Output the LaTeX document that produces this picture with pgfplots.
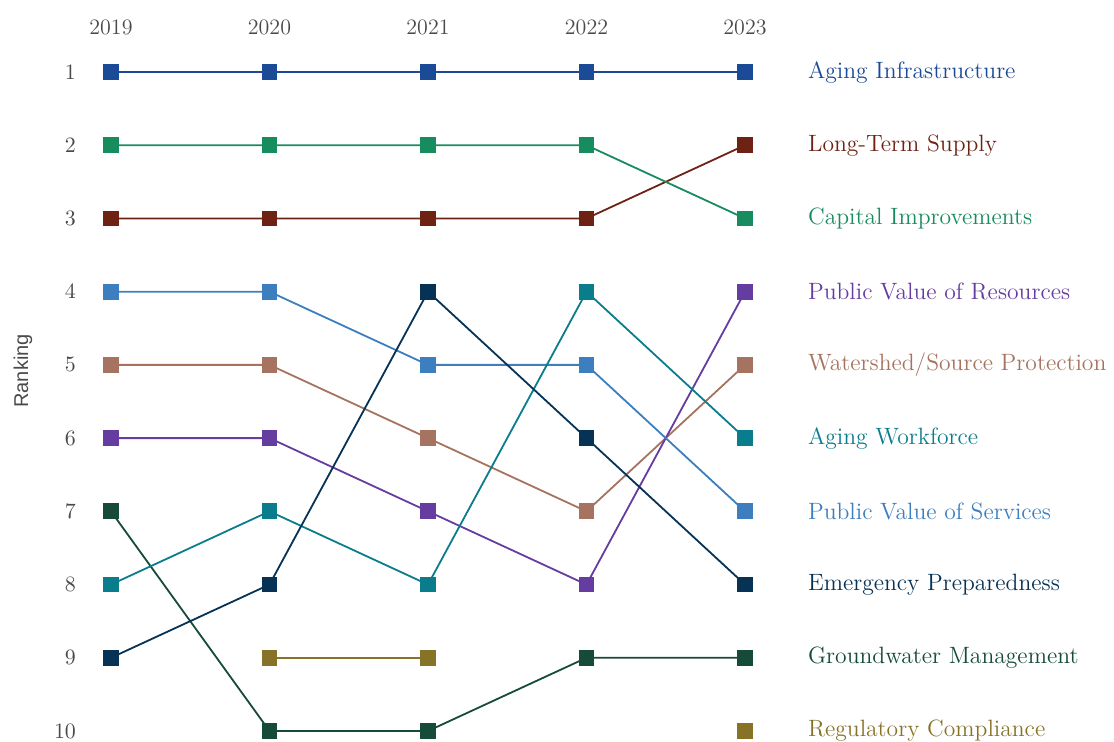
\documentclass[border=0pt]{standalone}
\usepackage{pgfplots}
\pgfplotsset{compat=1.18}
\usepackage{fontspec}
\newfontfamily\sansfam{Liberation Sans}
\definecolor{cAI}{HTML}{1B4A96}
\definecolor{cCI}{HTML}{178C5E}
\definecolor{cLT}{HTML}{6E2214}
\definecolor{cPS}{HTML}{3D7EBF}
\definecolor{cWS}{HTML}{A5735F}
\definecolor{cPR}{HTML}{653CA0}
\definecolor{cGM}{HTML}{154B38}
\definecolor{cAW}{HTML}{0A7D8C}
\definecolor{cEP}{HTML}{063255}
\definecolor{cRC}{HTML}{877328}
\definecolor{tickgray}{HTML}{4A4A4A}
\begin{document}
\begin{tikzpicture}
\begin{axis}[
  at={(0,0)}, anchor=south west,
  scale only axis, width=317pt, height=329.5pt,
  xmin=2019, xmax=2023, ymin=1, ymax=10,
  y dir=reverse, clip=false,
  axis line style={draw=none}, tick style={draw=none},
  xtick={2019,2020,2021,2022,2023},
  xticklabels={2019,2020,2021,2022,2023},
  xticklabel pos=top,
  xticklabel style={font=\fontsize{11}{13}\selectfont, text=tickgray, yshift=15pt},
  ytick={1,2,3,4,5,6,7,8,9,10},
  yticklabel style={font=\fontsize{11}{13}\selectfont, text=tickgray, xshift=-14pt},
  unbounded coords=jump,
  every axis plot/.append style={line width=0.9pt, mark=square*, mark size=3.5pt},
]
\addplot[color=cRC, mark options={fill=cRC}] coordinates {(2020,9)(2021,9)(2022,nan)(2023,10)};
\addplot[color=cGM, mark options={fill=cGM}] coordinates {(2019,7)(2020,10)(2021,10)(2022,9)(2023,9)};
\addplot[color=cWS, mark options={fill=cWS}] coordinates {(2019,5)(2020,5)(2021,6)(2022,7)(2023,5)};
\addplot[color=cPR, mark options={fill=cPR}] coordinates {(2019,6)(2020,6)(2021,7)(2022,8)(2023,4)};
\addplot[color=cPS, mark options={fill=cPS}] coordinates {(2019,4)(2020,4)(2021,5)(2022,5)(2023,7)};
\addplot[color=cAW, mark options={fill=cAW}] coordinates {(2019,8)(2020,7)(2021,8)(2022,4)(2023,6)};
\addplot[color=cEP, mark options={fill=cEP}] coordinates {(2019,9)(2020,8)(2021,4)(2022,6)(2023,8)};
\addplot[color=cLT, mark options={fill=cLT}] coordinates {(2019,3)(2020,3)(2021,3)(2022,3)(2023,2)};
\addplot[color=cCI, mark options={fill=cCI}] coordinates {(2019,2)(2020,2)(2021,2)(2022,2)(2023,3)};
\addplot[color=cAI, mark options={fill=cAI}] coordinates {(2019,1)(2020,1)(2021,1)(2022,1)(2023,1)};
\begin{scope}[every node/.style={anchor=west, xshift=28pt, font=\fontsize{11.8}{13}\selectfont}]
\node[text=cAI] at (axis cs:2023,1) {Aging Infrastructure};
\node[text=cLT] at (axis cs:2023,2) {Long-Term Supply};
\node[text=cCI] at (axis cs:2023,3) {Capital Improvements};
\node[text=cPR] at (axis cs:2023,4) {Public Value of Resources};
\node[text=cWS] at (axis cs:2023,5) {Watershed/Source Protection};
\node[text=cAW] at (axis cs:2023,6) {Aging Workforce};
\node[text=cPS] at (axis cs:2023,7) {Public Value of Services};
\node[text=cEP] at (axis cs:2023,8) {Emergency Preparedness};
\node[text=cGM] at (axis cs:2023,9) {Groundwater Management};
\node[text=cRC] at (axis cs:2023,10) {Regulatory Compliance};
\end{scope}
\end{axis}
\node[rotate=90, font=\sansfam\fontsize{10}{12}\selectfont, text=tickgray] at (-44pt,180pt) {Ranking};
\pgfresetboundingbox
\path[use as bounding box] (-55.5pt,-5.5pt) rectangle (501.5pt,365.5pt);
\end{tikzpicture}
\end{document}
